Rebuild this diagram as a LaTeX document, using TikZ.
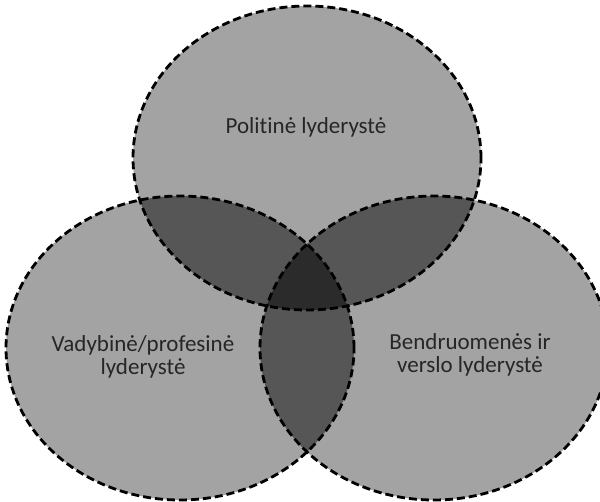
\documentclass[tikz,border=0pt]{standalone}
\usepackage{fontspec}
\setmainfont{Carlito}[Ligatures=NoCommon]
\begin{document}
\begin{tikzpicture}[x=1pt,y=1pt,
  single/.style={fill={rgb,255:red,163;green,163;blue,163}},
  double/.style={fill={rgb,255:red,86;green,86;blue,86}},
  triple/.style={fill={rgb,255:red,43;green,43;blue,43}},
  outline/.style={draw=black,line width=2.8pt,dash pattern=on 8pt off 4pt},
  label/.style={align=center,text={rgb,255:red,38;green,38;blue,38},
    font=\fontsize{23}{23.5}\selectfont,inner sep=0pt}]
\useasboundingbox (0,0) rectangle (600,501);
\fill[white] (0,0) rectangle (600,501);
\def\ET{(307,343) ellipse [x radius=174pt, y radius=152pt]}
\def\EL{(180,153) ellipse [x radius=174pt, y radius=152pt]}
\def\ER{(434,153) ellipse [x radius=174pt, y radius=152pt]}
\path[single] \ET;
\path[single] \EL;
\path[single] \ER;
\begin{scope}
  \clip \ET;
  \path[double] \EL;
  \path[double] \ER;
\end{scope}
\begin{scope}
  \clip \EL;
  \path[double] \ER;
\end{scope}
\begin{scope}
  \clip \ET;
  \clip \EL;
  \path[triple] \ER;
\end{scope}
\draw[outline] \ET;
\draw[outline] \EL;
\draw[outline] \ER;
\node[label] (pol) at (306,374) {Politinė lyderystė};
\node[label] (vad) at (143,144) {Vadybinė/profesinė\\lyderystė};
\node[label] (ben) at (470,146) {Bendruomenės ir\\verslo lyderystė};
\end{tikzpicture}
\end{document}
